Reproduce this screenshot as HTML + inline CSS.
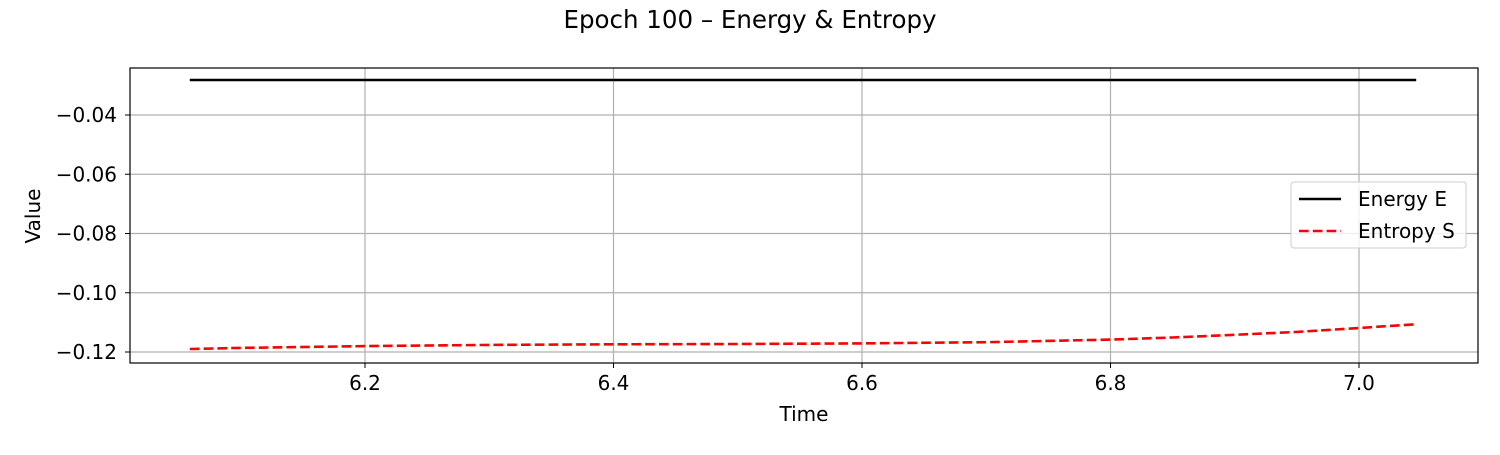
<!DOCTYPE html>
<html><head><meta charset="utf-8"><style>
body{margin:0;background:#fff;}
svg{font-family:"DejaVu Sans","Liberation Sans",sans-serif;}
</style></head><body>
<svg id="chart" width="1500" height="450"></svg>
<script>
const xTicks=[6.2,6.4,6.6,6.8,7.0];
const xTickLabels=["6.2","6.4","6.6","6.8","7.0"];
const yTicks=[-0.04,-0.06,-0.08,-0.10,-0.12];
const yTickLabels=["\u22120.04","\u22120.06","\u22120.08","\u22120.10","\u22120.12"];
const times=[6.059,6.1,6.2,6.3,6.4,6.5,6.6,6.7,6.8,6.85,6.9,6.95,7.0,7.046];
const energy=[-0.0282,-0.0282,-0.0282,-0.0282,-0.0282,-0.0282,-0.0282,-0.0282,-0.0282,-0.0282,-0.0282,-0.0282,-0.0282,-0.0282];
const entropy=[-0.1190,-0.1186,-0.1180,-0.1176,-0.1174,-0.1173,-0.1171,-0.1167,-0.1158,-0.1151,-0.1142,-0.1132,-0.1119,-0.1106];

const NS="http://www.w3.org/2000/svg";
const svg=document.getElementById('chart');
const L=130,R=1478,T=68,B=363;
const xs=v=>365+(v-6.2)/0.2*248.5;
const ys=v=>115+(-0.04-v)/0.02*59.25;
function mk(tag,attrs,parent){const e=document.createElementNS(NS,tag);for(const k in attrs)e.setAttribute(k,attrs[k]);(parent||svg).appendChild(e);return e;}

const title=mk('text',{x:750,y:28,'text-anchor':'middle','font-size':'24.5'});
title.textContent='Epoch 100 \u2013 Energy & Entropy';



xTicks.forEach((t,i)=>{
  const g=mk('line',{x1:xs(t),x2:xs(t),y1:T,y2:B,stroke:'#b0b0b0','stroke-width':1.2});
  
  
  mk('line',{x1:xs(t),x2:xs(t),y1:B,y2:B+5,stroke:'#000','stroke-width':1});
  const tx=mk('text',{x:xs(t),y:B+27,'text-anchor':'middle','font-size':'20'});
  tx.textContent=xTickLabels[i];
  
  
});
yTicks.forEach((t,i)=>{
  const g=mk('line',{x1:L,x2:R,y1:ys(t),y2:ys(t),stroke:'#b0b0b0','stroke-width':1.2});
  
  
  mk('line',{x1:L-5,x2:L,y1:ys(t),y2:ys(t),stroke:'#000','stroke-width':1});
  const tx=mk('text',{x:L-13,y:ys(t)+7,'text-anchor':'end','font-size':'20'});
  tx.textContent=yTickLabels[i];
  
  
});

const pts=arr=>times.map((t,i)=>xs(t).toFixed(1)+','+ys(arr[i]).toFixed(1)).join(' ');
const e=mk('polyline',{points:pts(energy),fill:'none',stroke:'#000','stroke-width':2.6});


const s=mk('polyline',{points:pts(entropy),fill:'none',stroke:'#ff0000','stroke-width':2.6,'stroke-dasharray':'9.6,4.2'});



const frame=mk('rect',{x:L,y:T,width:R-L,height:B-T,fill:'none',stroke:'#000','stroke-width':1.2});



const xl=mk('text',{x:(L+R)/2,y:421,'text-anchor':'middle','font-size':'20'});
xl.textContent='Time';


const yl=mk('text',{x:40,y:216,'text-anchor':'middle','font-size':'20',transform:'rotate(-90 40 216)'});
yl.textContent='Value';



const lg=mk('g',{});


mk('rect',{x:1291,y:182,width:175,height:66,rx:3,fill:'#fff','fill-opacity':0.8,stroke:'#ccc','stroke-width':1},lg);
mk('line',{x1:1299,x2:1341,y1:199,y2:199,stroke:'#000','stroke-width':2.6},lg);
const t1=mk('text',{x:1358,y:206,'font-size':'20'},lg);t1.textContent='Energy E';


mk('line',{x1:1299,x2:1341,y1:231,y2:231,stroke:'#ff0000','stroke-width':2.6,'stroke-dasharray':'9.6,4.2'},lg);
const t2=mk('text',{x:1358,y:238,'font-size':'20'},lg);t2.textContent='Entropy S';


</script>
</body></html>
